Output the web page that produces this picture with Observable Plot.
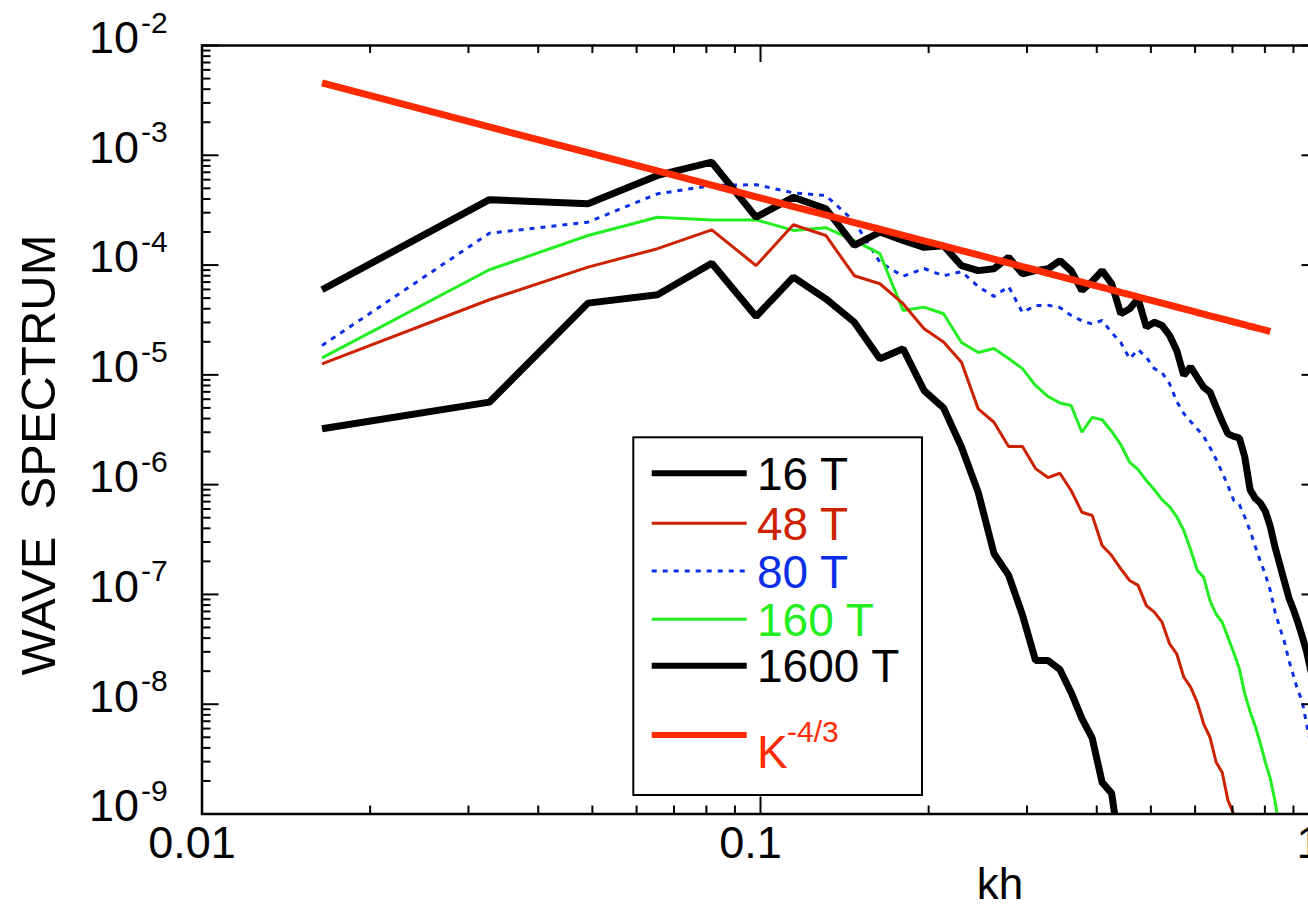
<!DOCTYPE html>
<html><head><meta charset="utf-8">
<script src="https://cdn.jsdelivr.net/npm/d3@7"></script>
<script src="https://cdn.jsdelivr.net/npm/@observablehq/plot@0.6"></script>
<style>html,body{margin:0;padding:0;overflow:hidden;background:#fff}svg{overflow:hidden}</style>
</head><body><div id="chart"></div>
<script>
// wavenumber grid (kh) of the spectral modes
const kh = [0.0164,0.0327,0.0491,0.0654,0.0818,0.0982,0.1145,0.1309,0.1472,0.1636,
  0.1800,0.1963,0.2127,0.2290,0.2454,0.2618,0.2781,0.2945,0.3108,0.3272,
  0.3436,0.3599,0.3763,0.3926,0.4090,0.4254,0.4417,0.4581,0.4744,0.4908,
  0.5072,0.5235,0.5399,0.5562,0.5726,0.5890,0.6053,0.6217,0.6380,0.6544,
  0.6708,0.6871,0.7035,0.7198,0.7362,0.7526,0.7689,0.7853,0.8016,0.8180,
  0.8344,0.8507,0.8671,0.8834,0.8998,0.9162,0.9325,0.9489,0.9652,0.9816];

const spec16 = [3.23e-6,5.64e-6,4.5e-5,5.37e-5,1.04e-4,3.4e-5,7.76e-5,4.93e-5,3.02e-5,1.40e-5,
  1.73e-5,7.2e-6,5.0e-6,2.2e-6,8.5e-7,2.36e-7,1.5e-7,6.5e-8,2.5e-8,2.5e-8,
  2.07e-8,1.28e-8,7.4e-9,4.9e-9,1.94e-9,1.54e-9,4e-10];

const spec48 = [1.26e-5,4.83e-5,9.57e-5,1.41e-4,2.09e-4,9.9e-5,2.33e-4,1.86e-4,8.0e-5,6.76e-5,
  4.45e-5,2.63e-5,1.99e-5,1.3e-5,4.9e-6,3.7e-6,2.23e-6,2.23e-6,1.4e-6,1.16e-6,
  1.27e-6,8.85e-7,5.6e-7,5.24e-7,2.79e-7,2.26e-7,1.71e-7,1.34e-7,1.21e-7,7.9e-8,
  6.9e-8,5.6e-8,3.56e-8,2.88e-8,1.77e-8,1.43e-8,1.04e-8,6.6e-9,5.0e-9,2.96e-9,
  2.4e-9,1.33e-9,1.0e-9,6e-10];

const spec80 = [1.85e-5,1.95e-4,2.46e-4,4.46e-4,5.31e-4,5.4e-4,4.55e-4,4.3e-4,2.5e-4,1.06e-4,
  7.9e-5,9.3e-5,8.0e-5,8.7e-5,6.38e-5,5.18e-5,6.38e-5,3.7e-5,4.28e-5,4.3e-5,
  4.11e-5,3.48e-5,3.1e-5,2.91e-5,3.13e-5,2.43e-5,1.97e-5,1.4e-5,1.7e-5,1.44e-5,
  1.14e-5,1.05e-5,8.35e-6,5.73e-6,4.45e-6,3.76e-6,3.22e-6,2.75e-6,2.18e-6,1.7e-6,
  1.29e-6,9.8e-7,7.2e-7,6.6e-7,5.1e-7,3.8e-7,2.74e-7,2.0e-7,1.52e-7,1.09e-7,
  6.9e-8,5.0e-8,3.7e-8,2.5e-8,1.83e-8,1.34e-8,1.08e-8,6.8e-9,4.5e-9,3e-9];

const spec160 = [1.43e-5,9.06e-5,1.86e-4,2.73e-4,2.58e-4,2.58e-4,2.07e-4,2.19e-4,1.67e-4,1.27e-4,
  3.86e-5,4.14e-5,3.6e-5,1.97e-5,1.6e-5,1.74e-5,1.41e-5,1.14e-5,8.0e-6,6.35e-6,
  5.55e-6,5.26e-6,3.0e-6,4.1e-6,3.9e-6,3.05e-6,2.32e-6,1.6e-6,1.37e-6,1.09e-6,
  9.0e-7,7.3e-7,6.3e-7,5.1e-7,3.83e-7,2.57e-7,1.66e-7,1.43e-7,8.8e-8,6.6e-8,
  5.6e-8,4.06e-8,2.96e-8,2.12e-8,1.25e-8,8.6e-9,6.3e-9,4.4e-9,2.95e-9,2.11e-9,
  1.3e-9,7e-10];

const spec1600 = [5.96e-5,3.94e-4,3.62e-4,6.55e-4,8.65e-4,2.73e-4,4.15e-4,3.26e-4,1.51e-4,2.0e-4,
  1.68e-4,1.45e-4,1.5e-4,9.9e-5,8.9e-5,9.25e-5,1.18e-4,8.33e-5,8.9e-5,9.25e-5,
  1.10e-4,8.9e-5,5.87e-5,7.1e-5,8.9e-5,6.76e-5,3.6e-5,4.0e-5,4.93e-5,2.72e-5,
  3.02e-5,2.82e-5,2.29e-5,1.67e-5,9.9e-6,1.18e-5,9.5e-6,7.7e-6,6.96e-6,5.08e-6,
  3.77e-6,2.9e-6,2.75e-6,2.67e-6,1.8e-6,9.0e-7,7.5e-7,6.8e-7,5.7e-7,4.16e-7,
  2.68e-7,1.88e-7,1.31e-7,9.3e-8,7.3e-8,5.6e-8,4.2e-8,3.1e-8,2.1e-8,1.5e-8];

// K^-4/3 reference line values
const specK = [4.57e-3,1.814e-3,1.056e-3,7.20e-4,5.35e-4,4.19e-4,3.41e-4,2.86e-4,2.44e-4,2.12e-4,
  1.868e-4,1.66e-4,1.495e-4,1.355e-4,1.236e-4,1.133e-4,1.046e-4,9.69e-5,9.02e-5,8.42e-5,
  7.89e-5,7.42e-5,6.99e-5,6.60e-5,6.25e-5,5.93e-5,5.64e-5,5.38e-5,5.13e-5,4.90e-5,
  4.70e-5,4.50e-5,4.32e-5,4.15e-5,3.99e-5,3.84e-5,3.70e-5,3.58e-5,3.45e-5,3.34e-5,
  3.23e-5,3.13e-5,3.03e-5,2.94e-5,2.86e-5,2.77e-5,2.70e-5,2.62e-5,2.55e-5,2.48e-5];

const xMajor = [0.01, 0.1, 1];
const xMinor = [0.02,0.03,0.04,0.05,0.06,0.07,0.08,0.09,0.2,0.3,0.4,0.5,0.6,0.7,0.8,0.9];
const xTickLabels = ["0.01", "0.1", "1"];
const yMajor = [1e-9,1e-8,1e-7,1e-6,1e-5,1e-4,1e-3,1e-2];
const yExponents = ["-9","-8","-7","-6","-5","-4","-3","-2"];
const yMinorMult = [2,3,4,5,6,7,8,9];
const yMinor = yMajor.slice(0, -1).flatMap(d => yMinorMult.map(m => m * d));

const seriesNames = ["16 T", "48 T", "80 T", "160 T", "1600 T", "K"];
const seriesColors = ["#000000", "#cc2200", "#0a2fe6", "#22ee22", "#000000", "#ff2a00"];
const seriesWidths = [7, 3, 3, 3, 7, 7];
const seriesDash = [null, null, "5,6", null, null, null];
const seriesData = [spec16, spec48, spec80, spec160, spec1600, specK];

const W = 1308, H = 907, mL = 201.5, mR = -10.5, mT = 45, mB = 93.5;
const fw = W - mL - mR, fh = H - mT - mB;
const FONT = "'Liberation Sans', Arial, Helvetica, sans-serif";

const rows = seriesData.map(arr => arr.map((v, i) => ({kh: kh[i], v})));
const drawOrder = [2, 3, 1, 0, 4, 5];

const lineMarks = drawOrder.map(i => Plot.line(rows[i], {
  x: "kh", y: "v", stroke: seriesColors[i], strokeWidth: seriesWidths[i],
  strokeDasharray: seriesDash[i] ?? undefined, strokeLinejoin: "miter", strokeLinecap: "butt", clip: true
}));

const tk = {stroke: "black", strokeWidth: 2};
const svg = Plot.plot({
  width: W, height: H,
  marginLeft: mL, marginRight: mR, marginTop: mT, marginBottom: mB,
  style: {fontFamily: FONT, background: "white", overflow: "hidden"},
  x: {type: "log", domain: [0.01, 1], axis: null},
  y: {type: "log", domain: [1e-9, 1e-2], axis: null},
  marks: [
    ...lineMarks,
    Plot.ruleX(xMajor, {...tk, insetTop: fh - 17}),
    Plot.ruleX(xMinor, {...tk, insetTop: fh - 8}),
    Plot.ruleX(xMajor, {...tk, insetBottom: fh - 17}),
    Plot.ruleX(xMinor, {...tk, insetBottom: fh - 8}),
    Plot.ruleY(yMajor, {...tk, insetRight: fw - 17}),
    Plot.ruleY(yMinor, {...tk, insetRight: fw - 9}),
    Plot.ruleY(yMajor, {...tk, insetLeft: fw - 17}),
    Plot.ruleY(yMinor, {...tk, insetLeft: fw - 9}),
    Plot.frame({stroke: "black", strokeWidth: 2.5}),
    Plot.text(xMajor, {x: d => d, frameAnchor: "bottom", text: (d, i) => xTickLabels[i],
      dy: 44, dx: -10, fontSize: 45, fill: "black"}),
    Plot.text(yMajor, {y: d => d, frameAnchor: "left", text: () => "10",
      textAnchor: "end", dx: -63, dy: -7, fontSize: 45, fill: "black"}),
    Plot.text(yMajor, {y: d => d, frameAnchor: "left", text: (d, i) => yExponents[i],
      textAnchor: "start", dx: -61, dy: -22.6, fontSize: 30, fill: "black"})
  ]
});
document.getElementById("chart").appendChild(svg);

const s = d3.select(svg);
// axis titles
s.append("text").attr("transform", "translate(55,455) rotate(-90)")
  .attr("text-anchor", "middle").attr("font-size", 49).attr("font-family", FONT)
  .style("white-space", "pre").attr("fill", "black").text("WAVE  SPECTRUM");
s.append("text").attr("x", 1000).attr("y", 899).attr("text-anchor", "middle")
  .attr("font-size", 44).attr("font-family", FONT).attr("fill", "black").text("kh");

// legend
const lg = s.append("g").attr("text-anchor", "start");
lg.append("rect").attr("x", 633.3).attr("y", 437.3).attr("width", 288.7).attr("height", 357.7)
  .attr("fill", "white").attr("stroke", "black").attr("stroke-width", 2);
const rowY = [473.3, 523.3, 571, 619.3, 665.7, 735];
seriesNames.forEach((name, i) => {
  lg.append("line").attr("x1", 651.7).attr("x2", 746.7).attr("y1", rowY[i]).attr("y2", rowY[i])
    .attr("stroke", seriesColors[i]).attr("stroke-width", seriesWidths[i] - (seriesWidths[i] > 5 ? 1 : 0))
    .attr("stroke-dasharray", seriesDash[i]);
  const t = lg.append("text").attr("x", 757).attr("y", rowY[i] + 16.5).attr("text-anchor", "start")
    .attr("font-size", 46).attr("font-family", FONT).attr("fill", seriesColors[i]).text(name);
  if (name === "K") {
    lg.append("text").attr("x", 787).attr("y", 741.7).attr("font-size", 30).attr("text-anchor", "start")
      .attr("font-family", FONT).attr("fill", seriesColors[i]).text("-4/3");
    t.attr("y", 768.3);
  }
});
</script></body></html>
